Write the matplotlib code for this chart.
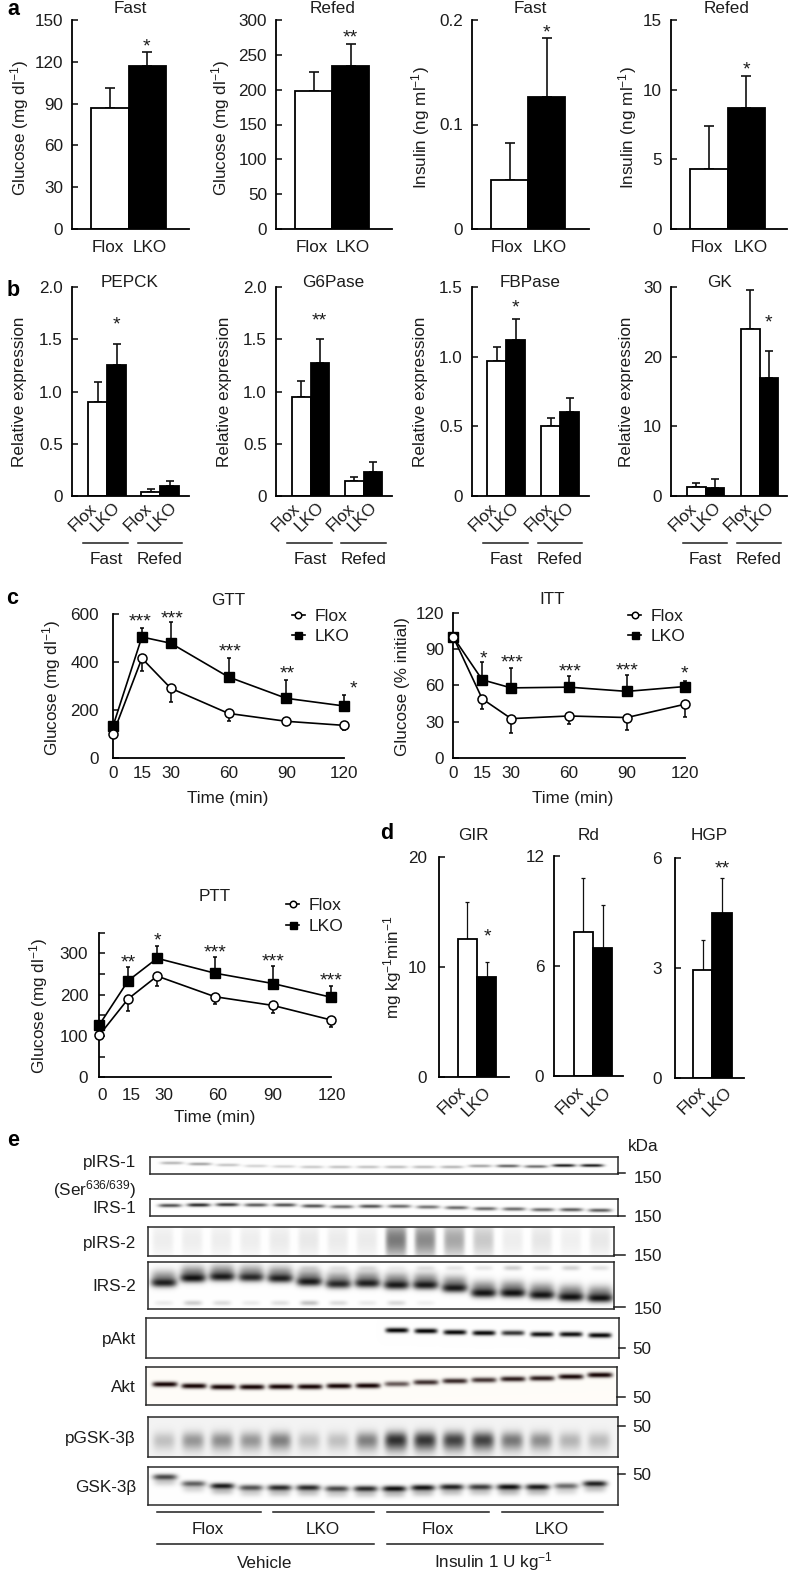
import matplotlib
matplotlib.use('Agg')
import matplotlib.pyplot as plt
import numpy as np

plt.rcParams['font.family'] = ['Liberation Sans', 'DejaVu Sans']
plt.rcParams['mathtext.fontset'] = 'custom'
plt.rcParams['mathtext.rm'] = 'Liberation Sans'
plt.rcParams['mathtext.default'] = 'rm'
plt.rcParams['font.size'] = 12.3
plt.rcParams['text.color'] = '#1c1c1c'
plt.rcParams['axes.labelcolor'] = '#1c1c1c'
plt.rcParams['xtick.color'] = '#1c1c1c'
plt.rcParams['ytick.color'] = '#1c1c1c'

W, H = 788, 1572
fig = plt.figure(figsize=(W / 100, H / 100), dpi=100)

# panel a
glu_fast, glu_fast_hi = [87, 117], [101, 127]
glu_refed, glu_refed_hi = [198, 234], [225, 266]
ins_fast, ins_fast_hi = [0.047, 0.126], [0.082, 0.183]
ins_refed, ins_refed_hi = [4.3, 8.7], [7.4, 11.0]

# panel b
pepck, pepck_hi = [0.90, 1.25, 0.04, 0.10], [1.09, 1.45, 0.065, 0.14]
g6pase, g6pase_hi = [0.95, 1.27, 0.14, 0.23], [1.10, 1.50, 0.18, 0.33]
fbpase, fbpase_hi = [0.97, 1.12, 0.50, 0.60], [1.07, 1.27, 0.56, 0.70]
gk, gk_hi = [1.3, 1.1, 24.0, 17.0], [1.8, 2.4, 29.6, 20.8]

# panel c
minutes = [0, 15, 30, 60, 90, 120]
gtt_flox = [99, 415, 290, 185, 152, 135]
gtt_flox_lo = [99, 362, 234, 153, 145, 116]
gtt_lko = [132, 504, 478, 337, 248, 216]
gtt_lko_hi = [150, 543, 565, 418, 324, 263]
itt_flox = [100, 48.8, 32.4, 34.6, 33.3, 44.3]
itt_flox_lo = [100, 40, 20.8, 27.7, 23, 34]
itt_lko = [100, 64.6, 57.9, 58.5, 55, 59]
itt_lko_hi = [100, 79, 74.8, 67.5, 68.3, 64]
ptt_flox = [102, 190, 245, 195, 174, 139]
ptt_flox_lo = [102, 160, 222, 177, 155, 121]
ptt_lko = [127, 234, 288, 252, 227, 194]
ptt_lko_hi = [127, 268, 319, 292, 269, 222]

# panel d
gir, gir_hi = [12.6, 9.15], [15.9, 10.5]
rd, rd_hi = [7.85, 7.0], [10.8, 9.3]
hgp, hgp_hi = [2.95, 4.5], [3.77, 5.45]

# panel e, band strength per lane (0-1) and band height inside its box
pirs1_str = [.3, .38, .24, .18, .18, .22, .25, .25, .27, .27, .3, .38, .65, .6, .95, .95]
pirs1_y = [6, 7, 8, 9, 9.5, 10, 10, 10, 10, 10, 10, 9, 9, 9.5, 8.5, 8.5]
irs1_str = [.72, .88, .82, .68, .72, .72, .62, .72, .62, .58, .62, .62, .62, .62, .68, .68]
irs1_y = [6.5, 6, 5.7, 6, 6, 7, 7.7, 7.3, 7.3, 8, 8.7, 9.7, 10, 10.7, 10.7, 11.3]
pirs2_str = [.07, .07, .07, .07, .08, .09, .08, .08, .55, .48, .36, .22, .07, .1, .06, .09]
irs2_str = [.9, .98, .93, .85, .9, .93, .85, .9, .93, .93, .93, .96, .98, .96, .98, .98]
irs2_y = [20.7, 16, 14.7, 15.3, 16.3, 19.7, 22, 21.3, 23, 23, 26, 31, 31, 33, 35, 36]
irs2_low = [.08, .2, .14, .08, .12, .25, .14, .08, .15, .06, 0, 0, 0, 0, 0, 0]
irs2_high = [0, 0, 0, 0, 0, .1, .08, .1, .05, .1, .1, .1, .2, .12, .18, .12]
pakt_str = [0, 0, 0, 0, 0, 0, 0, 0, 1, 1, .98, .98, .8, .95, .95, .98]
pakt_y = [0, 0, 0, 0, 0, 0, 0, 0, 12.3, 13, 14.3, 15, 15, 16.3, 16.3, 17.3]
akt_str = [1, 1, 1, 1, 1, 1, 1, 1, .65, .82, .85, .8, .9, .9, .98, 1]
akt_y = [17.3, 19, 20, 20, 19.7, 19.7, 19, 18.7, 17, 15.3, 14, 13, 12, 11.3, 9.7, 8]
pgsk_str = [.2, .38, .42, .38, .48, .2, .2, .48, .88, .85, .78, .78, .52, .42, .25, .22]
gsk_str = [.75, .65, .95, .7, .88, .88, .75, .88, 1, .98, .92, .8, 1, .95, .6, .92]
gsk_y = [10, 16.7, 19, 20.7, 20.7, 20.7, 21.7, 21.7, 21.7, 20.7, 20, 20, 20, 20, 19, 16.7]


def pos(x, y):
    return x / W, 1 - y / H


def txt(x, y, s, **kw):
    kw.setdefault('ha', 'center')
    rot = kw.get('rotation', 0)
    if rot == 0:
        # y is the middle of the capitals, 12 px tall
        fx, fy = pos(x, y + 6)
        kw.setdefault('va', 'baseline')
    else:
        fx, fy = pos(x + 2 if rot == 90 else x, y)
        kw.setdefault('va', 'center')
    return fig.text(fx, fy, s, **kw)


def stars(x, y, s):
    # the asterisk sits high in the line, so place it from the baseline
    fx, fy = pos(x, y + 8.5)
    fig.text(fx, fy, s, ha='center', va='baseline', fontsize=14)


def hline(x0, x1, y, lw=1.1):
    fx0, fy = pos(x0, y)
    fx1, _ = pos(x1, y)
    fig.add_artist(plt.Line2D([fx0, fx1], [fy, fy], color='#1c1c1c', lw=lw))


def new_axes(x0, x1, ytop, ybot, ylim, yticks, ylabels=None, pad=6.5):
    fx, fy = pos(x0, ybot)
    ax = fig.add_axes([fx, fy, (x1 - x0) / W, (ybot - ytop) / H])
    ax.patch.set_alpha(0)
    ax.spines['top'].set_visible(False)
    ax.spines['right'].set_visible(False)
    ax.spines['left'].set_linewidth(1.3)
    ax.spines['bottom'].set_linewidth(1.3)
    ax.set_ylim(*ylim)
    ax.set_yticks(yticks)
    ax.set_yticklabels(ylabels if ylabels else [str(t) for t in yticks])
    ax.tick_params(axis='y', direction='in', length=4, width=1.2, pad=pad)
    ax.set_xticks([])
    return ax


def bars(x0, x1, ytop, ybot, ylim, yticks, vals, his, left, bw, gap=0,
         capsize=3.6, elw=1.2, pad=6.5, ylabels=None):
    ax = new_axes(x0, x1, ytop, ybot, ylim, yticks, ylabels, pad)
    x = np.arange(len(vals), dtype=float)
    x[2:] += gap / bw
    ax.set_xlim((x0 - left) / bw - 0.5, (x1 - left) / bw - 0.5)
    for i in range(len(vals)):
        col = 'white' if i % 2 == 0 else 'black'
        ax.errorbar(x[i], vals[i], yerr=[[0], [his[i] - vals[i]]], color='#111111',
                    capsize=capsize, elinewidth=elw, capthick=elw, zorder=1)
        ax.bar(x[i], vals[i], width=1, facecolor=col, edgecolor='black', linewidth=1.3, zorder=2)
    return ax


def lines(x0, x1, ytop, ybot, ylim, yticks, ylabels, flox, flox_lo, lko, lko_hi, leg_x, leg_y, pad):
    ax = new_axes(x0, x1, ytop, ybot, ylim, yticks, ylabels, pad)
    ax.set_xlim(0, 120)
    ax.errorbar(minutes, lko, yerr=[np.zeros(6), np.array(lko_hi) - np.array(lko)], fmt='none',
                ecolor='black', elinewidth=1.1, capsize=1.6, capthick=1.1, clip_on=False)
    ax.errorbar(minutes, flox, yerr=[np.array(flox) - np.array(flox_lo), np.zeros(6)], fmt='none',
                ecolor='black', elinewidth=1.1, capsize=1.6, capthick=1.1, clip_on=False)
    l2, = ax.plot(minutes, lko, '-s', color='black', lw=1.2, ms=7, clip_on=False, zorder=3, label='LKO')
    l1, = ax.plot(minutes, flox, '-o', color='black', mfc='white', mew=1.1, lw=1.2, ms=6.5,
                  clip_on=False, zorder=4, label='Flox')
    ax.legend(handles=[l1, l2], loc='center left', bbox_to_anchor=pos(leg_x, leg_y),
              bbox_transform=fig.transFigure, frameon=False, borderpad=0, borderaxespad=0,
              handlelength=0.75, handletextpad=0.55, labelspacing=0.29, markerscale=0.72,
              fontsize=12.6)
    return ax


def blot(x0, x1, ytop, ybot, first, last, layers, bg=(1, 1, 1), ink=(0.05, 0.05, 0.05), base=0.0):
    # every layer: strength per lane, height in box, half height, half width, edge power
    xs = np.arange(x0, x1, 0.5) + 0.25
    ys = np.arange(0, ybot - ytop, 0.5) + 0.25
    gx, gy = np.meshgrid(xs, ys)
    centres = np.linspace(first, last, 16)
    clear = np.full(gx.shape, 1.0 - base)
    for strength, yc, hh, hw, power in layers:
        yc = np.broadcast_to(yc, (16,))
        for i in range(16):
            band = np.exp(-np.abs((gx - centres[i]) / hw) ** power - np.abs((gy - yc[i]) / hh) ** 2)
            clear = clear * (1 - strength[i] * band)
    img = np.zeros(gx.shape + (3,))
    for c in range(3):
        img[..., c] = bg[c] * clear + ink[c] * (1 - clear)
    fx, fy = pos(x0, ybot)
    ax = fig.add_axes([fx, fy, (x1 - x0) / W, (ybot - ytop) / H])
    ax.imshow(img, extent=(x0, x1, ybot, ytop), aspect='auto', interpolation='bilinear')
    ax.set_xticks([])
    ax.set_yticks([])
    for sp in ax.spines.values():
        sp.set_linewidth(1.1)
        sp.set_color('#2a2a2a')
    return ax


glucose = r'Glucose (mg dl$^{-1}$)'
insulin = r'Insulin (ng ml$^{-1}$)'

# a
bars(72, 189, 20, 229, (0, 150), [0, 30, 60, 90, 120, 150], glu_fast, glu_fast_hi, 91, 37.5)
bars(276, 392, 20, 229, (0, 300), [0, 50, 100, 150, 200, 250, 300], glu_refed, glu_refed_hi, 295, 37)
bars(472, 589, 20, 229, (0, 0.2), [0, 0.1, 0.2], ins_fast, ins_fast_hi, 491, 37, ylabels=['0', '0.1', '0.2'])
bars(671, 787, 20, 229, (0, 15), [0, 5, 10, 15], ins_refed, ins_refed_hi, 690, 37.5)

for x, s in [(130, 'Fast'), (333, 'Refed'), (530, 'Fast'), (727, 'Refed')]:
    txt(x, 7, s)
for x, s in [(18, glucose), (219, glucose), (419, insulin), (626, insulin)]:
    txt(x, 128, s, rotation=90)
for x, s in [(108, 'Flox'), (150, 'LKO'), (312, 'Flox'), (353, 'LKO'),
             (507, 'Flox'), (550, 'LKO'), (707, 'Flox'), (751, 'LKO')]:
    txt(x, 246, s)
stars(146, 43, '*')
stars(350, 34, '**')
stars(546, 29, '*')
stars(746, 66, '*')

# b
tb = [0, 0.5, 1.0, 1.5, 2.0]
lb = ['0', '0.5', '1.0', '1.5', '2.0']
bars(72, 189, 287, 496, (0, 2), tb, pepck, pepck_hi, 88, 19, gap=15, capsize=2.6, ylabels=lb)
bars(276, 392, 287, 496, (0, 2), tb, g6pase, g6pase_hi, 292, 18.5, gap=16, capsize=2.6, ylabels=lb)
bars(472, 589, 287, 496, (0, 1.5), [0, 0.5, 1.0, 1.5], fbpase, fbpase_hi, 487, 19, gap=16, capsize=2.6,
     ylabels=['0', '0.5', '1.0', '1.5'])
bars(671, 787, 287, 496, (0, 30), [0, 10, 20, 30], gk, gk_hi, 687, 18.5, gap=17, capsize=2.6)

for x, s in [(130, 'PEPCK'), (333, 'G6Pase'), (530, 'FBPase'), (720, 'GK')]:
    txt(x, 281, s)
for x in [18, 222, 419, 625]:
    txt(x, 392, 'Relative expression', rotation=90)
for xs in [(83, 106, 138, 163), (286, 310, 341, 363), (483, 505, 539, 560), (683, 707, 738, 760)]:
    for x, s in zip(xs, ['Flox', 'LKO', 'Flox', 'LKO']):
        txt(x, 517, s, rotation=45)
for a, b, c, d in [(83, 128, 138, 182), (287, 332, 341, 386), (483, 528, 538, 582), (683, 727, 737, 781)]:
    hline(a, b, 543)
    hline(c, d, 543)
    txt((a + b) / 2 + 0.5, 558, 'Fast')
    txt((c + d) / 2, 558, 'Refed')
stars(116, 321, '*')
stars(319, 317, '**')
stars(515, 304, '*')
stars(768, 319, '*')

# c
ax = lines(113, 344, 614, 757.7, (0, 600), [0, 200, 400, 600], None,
           gtt_flox, gtt_flox_lo, gtt_lko, gtt_lko_hi, 291.5, 626.5, 10)
ax.set_xticks(minutes)
ax.tick_params(axis='x', length=0, pad=6)
txt(228, 599, 'GTT')
txt(228, 797, 'Time (min)')
txt(50, 688, glucose, rotation=90)
for x, y, s in [(140, 618, '***'), (172, 615, '***'), (230, 648, '***'), (287, 670, '**'), (353, 685, '*')]:
    stars(x, y, s)

ax = lines(453.3, 684.7, 613, 757.7, (0, 120), [0, 30, 60, 90, 120], None,
           itt_flox, itt_flox_lo, itt_lko, itt_lko_hi, 628, 626.5, 6.5)
ax.set_xticks(minutes)
ax.tick_params(axis='x', length=0, pad=6)
txt(552, 598, 'ITT')
txt(573, 797, 'Time (min)')
txt(400, 687, r'Glucose (% initial)', rotation=90)
for x, y, s in [(483, 655, '*'), (512, 659, '***'), (570, 668, '***'), (627, 667, '***'), (684, 670, '*')]:
    stars(x, y, s)

ptt_ticks = [0, 50, 100, 150, 200, 250, 300, 350]
ptt_labels = ['0', '', '100', '', '200', '', '300', '']
ax = lines(99.3, 330.7, 932.7, 1077.3, (0, 350), ptt_ticks, ptt_labels,
           ptt_flox, ptt_flox_lo, ptt_lko, ptt_lko_hi, 286, 916, 8)
for x, s in [(102, '0'), (131, '15'), (164, '30'), (218, '60'), (273, '90'), (332, '120')]:
    txt(x, 1094, s)
txt(215, 895, 'PTT')
txt(215, 1116, 'Time (min)')
txt(37, 1006, glucose, rotation=90)
for x, y, s in [(128, 959, '**'), (157, 937, '*'), (215, 949, '***'), (273, 958, '***'), (331, 977, '***')]:
    stars(x, y, s)

# d
bars(439, 509, 857.3, 1077.3, (0, 20), [0, 10, 20], gir, gir_hi, 457.7, 19.3, capsize=1.2, elw=0.9, pad=8.5)
bars(554, 623.3, 855.7, 1076.3, (0, 12), [0, 6, 12], rd, rd_hi, 573.7, 19.3, capsize=1.2, elw=0.9, pad=7)
bars(674.7, 744.3, 858.3, 1077.7, (0, 6), [0, 3, 6], hgp, hgp_hi, 692.7, 19.7, capsize=1.2, elw=0.9, pad=9)
for x, s in [(473, 'GIR'), (589, 'Rd'), (709, 'HGP')]:
    txt(x, 834, s)
txt(391, 967, r'mg kg$^{-1}$min$^{-1}$', rotation=90)
for xa, xb in [(452, 477), (570, 597), (692, 718)]:
    txt(xa, 1100, 'Flox', rotation=45)
    txt(xb, 1102, 'LKO', rotation=45)
stars(487, 933, '*')
stars(722, 865, '**')

# e
blot(150, 618, 1157, 1174, 172, 592, [(pirs1_str, pirs1_y, 1.5, 11.5, 4)])
blot(150, 618, 1199, 1216, 170, 600, [(irs1_str, irs1_y, 1.8, 11.5, 4)])
blot(148, 614, 1227, 1256, 163, 600, [(pirs2_str, 13, 17, 10.5, 6)])
blot(148, 614, 1262, 1309, 164, 600,
     [(irs2_str, irs2_y, 4.2, 12.5, 4),
      (np.array(irs2_str) * 0.5, np.array(irs2_y) - 5, 7.5, 12.5, 4),
      (irs2_low, 41, 2.5, 9, 4),
      (irs2_high, 6, 2.5, 9, 4)])
blot(146, 619, 1318, 1358, 165, 600, [(pakt_str, pakt_y, 2.5, 11.5, 6)], ink=(0, 0, 0))
blot(146, 617, 1367, 1405, 165, 600, [(akt_str, akt_y, 2.6, 12.5, 6)], bg=(1.0, 0.992, 0.975), ink=(0.07, 0.0, 0.0))
blot(148, 618, 1417, 1457, 164, 599,
     [(pgsk_str, 23, 8, 11, 4),
      (np.array(pgsk_str) * 0.3, 29, 9, 11, 4)], base=0.05, ink=(0.1, 0.1, 0.1))
blot(148, 618, 1467, 1505, 165, 595,
     [(gsk_str, gsk_y, 3, 12, 4),
      (np.array(gsk_str) * 0.25, np.array(gsk_y) + 5, 4, 11, 4)])

for y, s in [(1161, 'pIRS-1'), (1207, 'IRS-1'), (1242, 'pIRS-2'), (1285, 'IRS-2'),
             (1338, 'pAkt'), (1386, 'Akt'), (1437, 'pGSK-3β'), (1486, 'GSK-3β')]:
    txt(136, y, s, ha='right')
txt(136, 1189, r'(Ser$^{636/639}$)', ha='right')

txt(643, 1145, 'kDa')
for y, x0, ly in [(1173, 618, 1177), (1216, 618, 1216), (1255, 614, 1255), (1307, 614, 1308)]:
    hline(x0, 625, y)
    txt(648, ly, '150')
for y, x0 in [(1348, 619), (1397, 617), (1426, 618), (1474, 618)]:
    hline(x0, 625, y)
    txt(642, y, '50')

for a, b in [(157, 261), (273, 374), (387, 489), (502, 603)]:
    hline(a, b, 1512)
for x, s in [(208, 'Flox'), (323, 'LKO'), (438, 'Flox'), (552, 'LKO')]:
    txt(x, 1528, s)
hline(157, 374, 1544)
hline(387, 603, 1544)
txt(265, 1562, 'Vehicle')
txt(494, 1561, r'Insulin 1 U kg$^{-1}$')

# panel letters, baselines
for x, y, s in [(13, 15, 'a'), (13, 296, 'b'), (12, 604, 'c'), (387, 839, 'd'), (13, 1146, 'e')]:
    fx, fy = pos(x, y)
    fig.text(fx, fy, s, ha='center', va='baseline', fontweight='bold', fontsize=15.5, color='black')

plt.savefig('out.png', dpi=100)
